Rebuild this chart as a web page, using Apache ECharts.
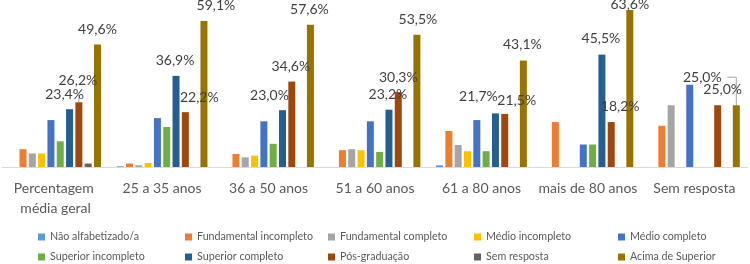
<!DOCTYPE html>
<html>
<head>
<meta charset="utf-8">
<script src="https://cdn.jsdelivr.net/npm/echarts@6/dist/echarts.min.js"></script>
<style>
  html, body { margin: 0; padding: 0; background: #fff; }
  #chart { width: 750px; height: 264px; }
</style>
</head>
<body>
<div id="chart"></div>
<script>
// faixas etárias
const categorias = ['Percentagem média geral', '25 a 35 anos', '36 a 50 anos', '51 a 60 anos', '61 a 80 anos', 'mais de 80 anos', 'Sem resposta'];

// escolaridade (%)
const naoAlfabetizado = [0, 0.3, 0, 0, 0.7, 0, 0];
const fundIncompleto = [7.2, 1.4, 5.3, 6.8, 14.6, 18.2, 16.7];
const fundCompleto = [5.5, 0.7, 3.9, 7.2, 8.9, 0, 25.0];
const medioIncompleto = [5.5, 1.6, 4.6, 6.8, 6.4, 0, 0];
const medioCompleto = [19.0, 19.8, 18.5, 18.5, 19.0, 9.1, 33.3];
const supIncompleto = [10.4, 16.2, 9.4, 6.1, 6.4, 9.1, 0];
const supCompleto = [23.4, 36.9, 23.0, 23.2, 21.7, 45.5, 0];
const posGraduacao = [26.2, 22.2, 34.6, 30.3, 21.5, 18.2, 25.0];
const semResposta = [1.4, 0, 0, 0, 0, 0, 0];
const acimaSuperior = [49.6, 59.1, 57.6, 53.5, 43.1, 63.6, 25.0];

const series = [
  { name: 'Não alfabetizado/a', data: naoAlfabetizado, color: '#5B9BD5' },
  { name: 'Fundamental incompleto', data: fundIncompleto, color: '#ED7D31' },
  { name: 'Fundamental completo', data: fundCompleto, color: '#A5A5A5' },
  { name: 'Médio incompleto', data: medioIncompleto, color: '#FFC000' },
  { name: 'Médio completo', data: medioCompleto, color: '#4472C4' },
  { name: 'Superior incompleto', data: supIncompleto, color: '#70AD47' },
  { name: 'Superior completo', data: supCompleto, color: '#255E91', label: true },
  { name: 'Pós-graduação', data: posGraduacao, color: '#9E480E', label: true },
  { name: 'Sem resposta', data: semResposta, color: '#636363' },
  { name: 'Acima de Superior', data: acimaSuperior, color: '#997300', label: true }
];

// deslocamento dos rótulos movidos à mão (série -> [dx, dy] por categoria)
const labelShift = {
  6: [[-5, 0], [-1, 0], [-13, 0], [-1, 0], [-17, -2], [-1, -1], [0, 0]],
  7: [[-1, -7], [14, 0], [-1, 0], [0, 0], [12, 2], [9, -1], [5, -1]],
  9: [[0, 0], [12, -1], [-1, 0], [1, 0], [-1, -1], [0, 10], [-34, -13]]
};

const fmt = (v) => v.toFixed(1).replace('.', ',') + '%';

const chart = echarts.init(document.getElementById('chart'));

const legendCols = [
  ['Não alfabetizado/a', 'Superior incompleto'],
  ['Fundamental incompleto', 'Superior completo'],
  ['Fundamental completo', 'Pós-graduação'],
  ['Médio incompleto', 'Sem resposta'],
  ['Médio completo', 'Acima de Superior']
];
const legendLeft = [38, 185, 328, 474, 618];

chart.setOption({
  animation: false,
  textStyle: { fontFamily: 'Lato' },
  grid: { left: 1, right: -2, top: 4, bottom: 97 },
  legend: legendCols.map((col, i) => ({
    data: col,
    orient: 'vertical',
    left: legendLeft[i],
    top: 230,
    padding: 0,
    itemWidth: 7,
    itemHeight: 7,
    itemGap: 6,
    icon: 'rect',
    selectedMode: false,
    textStyle: { color: '#595959', fontSize: 10.7, lineHeight: 14, fontFamily: 'Lato' }
  })),
  xAxis: {
    type: 'category',
    data: categorias,
    axisLine: { lineStyle: { color: '#D9D9D9' } },
    axisTick: { show: false },
    axisLabel: {
      interval: 0,
      color: '#595959',
      fontSize: 14,
      lineHeight: 20,
      margin: 11,
      width: 106,
      overflow: 'break',
      fontFamily: 'Lato'
    }
  },
  yAxis: {
    type: 'value',
    min: 0,
    max: 66,
    show: false
  },
  series: series.map((s, si) => ({
    type: 'bar',
    name: s.name,
    barWidth: 7,
    barGap: '33%',
    itemStyle: { color: s.color },
    data: s.data,
    label: {
      show: !!s.label,
      position: 'top',
      distance: 8,
      color: '#404040',
      fontSize: 14,
      fontFamily: 'Lato',
      formatter: (p) => (p.value ? fmt(p.value) : '')
    },
    labelLayout: (p) => {
      const off = labelShift[si] && labelShift[si][p.dataIndex];
      return off ? { dx: off[0], dy: off[1] } : {};
    }
  }))
});

// linhas de chamada (a partir do layout calculado pelo próprio gráfico)
function barTop(si, di) {
  const lay = chart.getModel().getSeriesByIndex(si).getData().getItemLayout(di);
  return { x: lay.x + lay.width / 2, y: Math.min(lay.y, lay.y + lay.height) };
}
const a = barTop(7, 0);
const b = barTop(9, 6);
const lineStyle = { stroke: '#A6A6A6', lineWidth: 1, fill: null };
chart.setOption({
  graphic: [
    { type: 'polyline', shape: { points: [[a.x, a.y - 7], [a.x, a.y]] }, style: lineStyle, silent: true },
    { type: 'polyline', shape: { points: [[b.x - 9, b.y - 28], [b.x, b.y - 28], [b.x, b.y]] }, style: lineStyle, silent: true }
  ]
});
</script>
</body>
</html>
